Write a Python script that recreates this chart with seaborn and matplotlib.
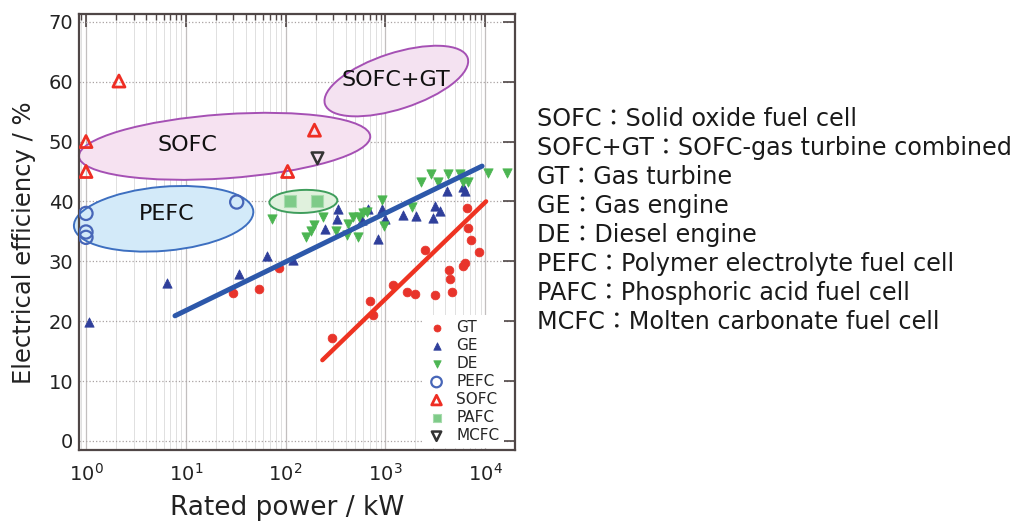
import numpy as np
import matplotlib
matplotlib.use("Agg")
import matplotlib.pyplot as plt
import matplotlib.transforms as mtransforms
from matplotlib.patches import Ellipse
from matplotlib.ticker import LogLocator, NullFormatter, MultipleLocator
import seaborn as sns

# rated power (kW) / electrical efficiency (%)
gt_kw = [30, 54, 87, 295, 708, 759, 1202, 1660, 1995, 2512, 3162, 4365, 4470, 4680,
         6026, 6310, 6607, 6760, 7244, 8710]
gt_eff = [24.7, 25.4, 28.9, 17.2, 23.4, 21.0, 26.0, 24.9, 24.5, 31.9, 24.4, 28.5, 27.0, 24.9,
          29.2, 29.7, 38.9, 35.5, 33.6, 31.6]

ge_kw = [1.07, 6.5, 34, 65, 118, 251, 331, 339, 589, 676, 851, 933, 1000, 1514, 2042,
         3020, 3162, 3548, 4169, 6026, 6310]
ge_eff = [19.9, 26.4, 27.9, 30.9, 30.2, 35.4, 37.1, 38.7, 36.9, 38.7, 33.7, 38.7, 37.1, 37.7, 37.6,
          37.2, 39.2, 38.4, 41.7, 42.4, 41.7]

de_kw = [74, 162, 182, 195, 240, 324, 417, 427, 479, 537, 550, 603, 661, 933, 977, 1862,
         2291, 2884, 3388, 4266, 5623, 6026, 6761, 10715, 16600]
de_eff = [37.1, 34.1, 35.1, 36.1, 37.4, 35.1, 34.4, 36.2, 37.4, 34.1, 37.4, 38.1, 38.2, 40.2, 35.9, 39.1,
          43.2, 44.6, 43.2, 44.6, 44.6, 43.2, 43.2, 44.7, 44.7]

pefc_kw = [1.0, 1.0, 1.0, 32.4]
pefc_eff = [38.0, 34.9, 34.0, 39.9]

sofc_kw = [1.0, 1.0, 2.14, 195, 105]
sofc_eff = [50.0, 45.0, 60.1, 51.9, 45.0]

pafc_kw = [110, 209]
pafc_eff = [40.0, 40.0]

mcfc_kw = [209]
mcfc_eff = [47.2]

# trend lines (end points)
engine_fit_kw = [7.8, 9330]
engine_fit_eff = [20.9, 45.9]
turbine_fit_kw = [234, 10230]
turbine_fit_eff = [13.5, 40.0]

# regions: label, centre kW, centre %, label kW, label %
region_names = ["SOFC+GT", "SOFC", "PEFC", ""]
region_kw = [1290, 24.5, 6.0, 151]
region_eff = [60.1, 49.2, 37.1, 40.0]
label_kw = [1290, 10.5, 6.5, 151]
label_eff = [60.3, 49.4, 37.9, 40.0]

descriptions = [
    "SOFC\uff1aSolid oxide fuel cell",
    "SOFC+GT\uff1aSOFC-gas turbine combined",
    "GT\uff1aGas turbine",
    "GE\uff1aGas engine",
    "DE\uff1aDiesel engine",
    "PEFC\uff1aPolymer electrolyte fuel cell",
    "PAFC\uff1aPhosphoric acid fuel cell",
    "MCFC\uff1aMolten carbonate fuel cell",
]

sns.set_style("white")
plt.rcParams["font.family"] = ["DejaVu Sans", "Noto Sans CJK JP"]

frame = "#4f4646"
fig = plt.figure(figsize=(10.3, 5.25), dpi=100)
ax = fig.add_axes([0.0767, 0.1429, 0.4233, 0.8305])
ax.set_xscale("log")
ax.set_xlim(10 ** -0.07, 10 ** 4.3)
ax.set_ylim(-1.5, 71.3)

# ellipses (size in inches, angle in degrees on screen)
ell_w = [1.50, 2.92, 1.80, 0.68]
ell_h = [0.56, 0.64, 0.64, 0.23]
ell_ang = [18, 4, 5, 2]
ell_edge = ["#a550b4", "#a550b4", "#3d6fc0", "#3f9d5c"]
ell_face = ["#f4e2f1", "#f6e2f1", "#d3eaf9", "#e0f1dd"]
for i in range(4):
    tr = fig.dpi_scale_trans + mtransforms.ScaledTranslation(region_kw[i], region_eff[i], ax.transData)
    e = Ellipse((0, 0), ell_w[i], ell_h[i], angle=ell_ang[i], transform=tr,
                facecolor=ell_face[i], edgecolor=ell_edge[i], lw=1.4, zorder=1, clip_on=False)
    ax.add_patch(e)
    if region_names[i]:
        ax.text(label_kw[i], label_eff[i], region_names[i], ha="center", va="center",
                fontsize=16, color="#111111", zorder=2)

sns.scatterplot(x=gt_kw, y=gt_eff, ax=ax, label="GT", marker="o", s=40,
                color="#e8342b", edgecolor="#e8342b", zorder=3)
sns.scatterplot(x=ge_kw, y=ge_eff, ax=ax, label="GE", marker="^", s=45,
                color="#2f3f9b", edgecolor="#2f3f9b", zorder=3)
sns.scatterplot(x=de_kw, y=de_eff, ax=ax, label="DE", marker="v", s=45,
                color="#4cb552", edgecolor="#4cb552", zorder=3)
sns.scatterplot(x=pefc_kw, y=pefc_eff, ax=ax, label="PEFC", marker="o", s=90,
                color="#4766b8", facecolor="none", edgecolor="#4766b8", linewidth=1.6, zorder=3)
sns.scatterplot(x=sofc_kw, y=sofc_eff, ax=ax, label="SOFC", marker="^", s=75,
                color="#ee2e24", facecolor="none", edgecolor="#ee2e24", linewidth=2.0, zorder=3)
sns.scatterplot(x=pafc_kw, y=pafc_eff, ax=ax, label="PAFC", marker="s", s=65,
                color="#7ecb88", edgecolor="#a8dcae", linewidth=0.8, zorder=3)
sns.scatterplot(x=mcfc_kw, y=mcfc_eff, ax=ax, label="MCFC", marker="v", s=70,
                color="#333333", facecolor="none", edgecolor="#333333", linewidth=1.8, zorder=3)

sns.lineplot(x=engine_fit_kw, y=engine_fit_eff, ax=ax, color="#2d58aa", lw=3.6, zorder=4)
sns.lineplot(x=turbine_fit_kw, y=turbine_fit_eff, ax=ax, color="#ee3322", lw=3.2, zorder=4)

ax.xaxis.set_major_locator(LogLocator(base=10, numticks=10))
ax.xaxis.set_minor_locator(LogLocator(base=10, subs=np.arange(2, 10), numticks=100))
ax.xaxis.set_minor_formatter(NullFormatter())
ax.yaxis.set_major_locator(MultipleLocator(10))

ax.grid(which="major", axis="x", color="#c2bfbf", lw=0.9)
ax.grid(which="minor", axis="x", color="#e0e0e0", lw=0.7)
ax.grid(which="major", axis="y", color="#a9a2a2", lw=0.9, ls=":")
ax.set_axisbelow(True)

for sp in ax.spines.values():
    sp.set_color(frame)
    sp.set_linewidth(1.6)
ax.tick_params(which="both", direction="in", top=True, right=True, color=frame)
ax.tick_params(which="major", length=9, width=1.2, labelsize=14, labelcolor="#222222")
ax.tick_params(which="minor", length=4.5, width=1.0)
ax.tick_params(axis="x", which="major", pad=9)
ax.tick_params(axis="y", which="major", pad=4)

ax.set_xlabel("Rated power / kW", fontsize=19, color="#222222")
ax.set_ylabel("Electrical efficiency / %", fontsize=17.5, color="#222222")
ax.xaxis.set_label_coords(0.477, -0.103)
ax.yaxis.set_label_coords(-0.098, 0.476)

leg = ax.legend(loc="lower right", bbox_to_anchor=(0.975, 0.005), fontsize=11,
                frameon=True, fancybox=False, edgecolor="none", facecolor="white",
                framealpha=1, labelspacing=0.2, handletextpad=0.8, borderpad=0.3,
                handlelength=1.0, borderaxespad=0, markerscale=0.8)
leg.set_zorder(6)

for i, s in enumerate(descriptions):
    fig.text(537 / 1030, 1 - (119 + 29 * i) / 525, s, va="center", ha="left",
             fontsize=17.2, color="#1a1a1a")

fig.savefig("out.png", dpi=100)
